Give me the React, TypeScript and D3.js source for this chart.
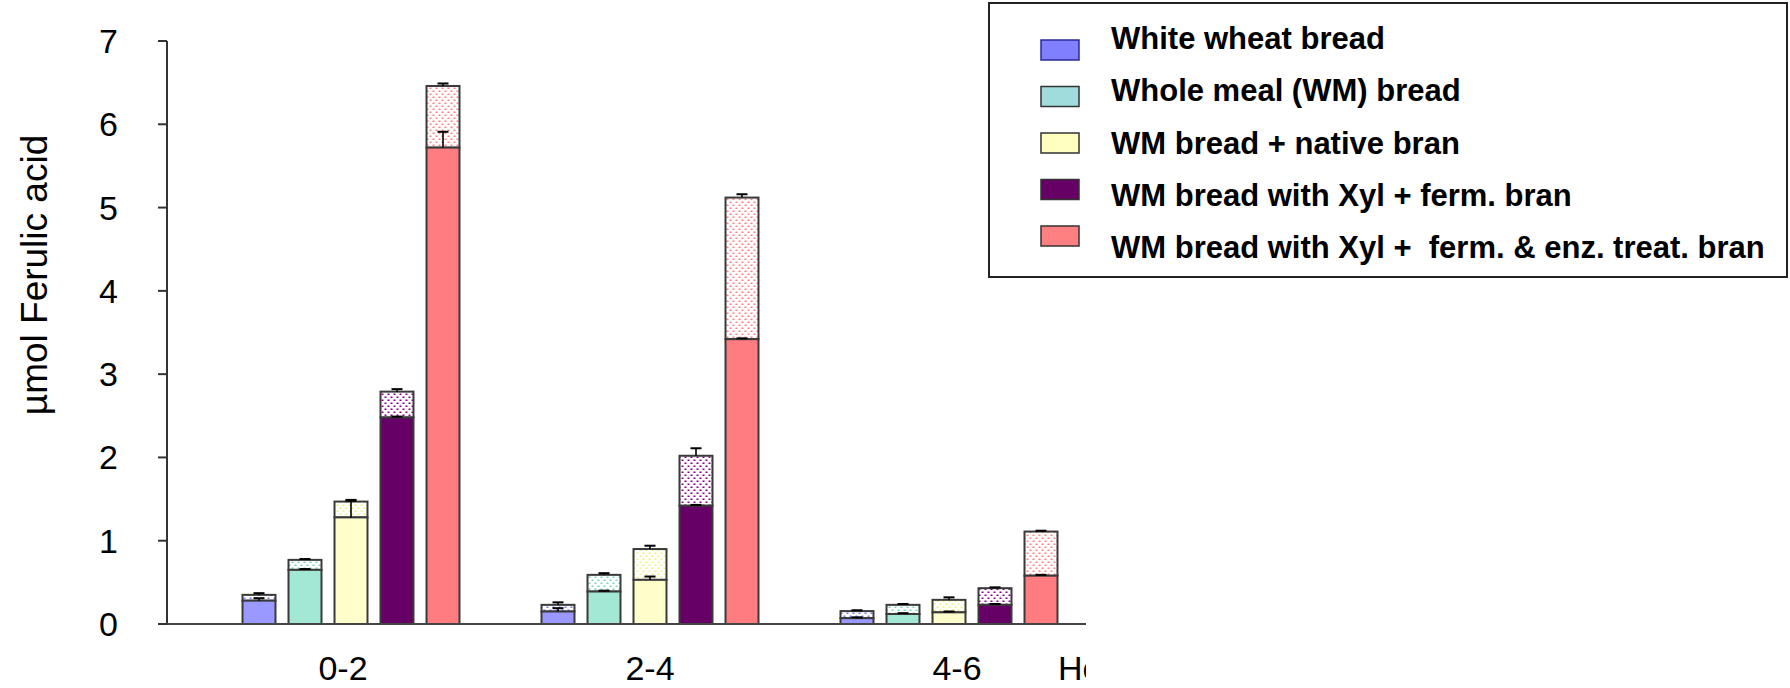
import React from "react";
import * as d3 from "d3";

// hours after ingestion
const categories = ["0-2", "2-4", "4-6"];

const seriesNames = [
    "White wheat bread",
    "Whole meal (WM) bread",
    "WM bread + native bran",
    "WM bread with Xyl + ferm. bran",
    "WM bread with Xyl +  ferm. & enz. treat. bran",
];

// solid (lower) part of each bar
const whiteSolid = [0.28, 0.15, 0.07];
const wholeMealSolid = [0.65, 0.39, 0.12];
const nativeBranSolid = [1.28, 0.53, 0.14];
const fermBranSolid = [2.48, 1.42, 0.23];
const enzBranSolid = [5.72, 3.42, 0.58];

// total height of each bar (dotted part on top)
const whiteTotal = [0.35, 0.23, 0.155];
const wholeMealTotal = [0.77, 0.59, 0.23];
const nativeBranTotal = [1.47, 0.9, 0.29];
const fermBranTotal = [2.79, 2.02, 0.43];
const enzBranTotal = [6.46, 5.12, 1.11];

// error bars
const solidErrors = [
    [0.03, 0.04, 0.01],
    [0.01, 0.01, 0.01],
    [0.2, 0.04, 0.01],
    [0.01, 0.01, 0.01],
    [0.19, 0.01, 0.01],
];
const totalErrors = [
    [0.02, 0.03, 0.01],
    [0.01, 0.02, 0.01],
    [0.02, 0.04, 0.03],
    [0.03, 0.09, 0.01],
    [0.03, 0.04, 0.01],
];

const yTicks = [0, 1, 2, 3, 4, 5, 6, 7];

const barColors = ["#9999ff", "#a3e8d4", "#ffffcc", "#660066", "#ff7c80"];
const dotColors = ["#7777ff", "#77d4c0", "#f2f27a", "#880088", "#ff8080"];
const swatchColors = ["#8080ff", "#a0dcdc", "#ffffc0", "#660066", "#ff8080"];

const solids = [whiteSolid, wholeMealSolid, nativeBranSolid, fermBranSolid, enzBranSolid];
const totals = [whiteTotal, wholeMealTotal, nativeBranTotal, fermBranTotal, enzBranTotal];

const font = "'Liberation Sans', Arial, sans-serif";

export default function App() {
    const width = 1790;
    const height = 688;

    const axisLeft = 167;
    const axisRight = 1086;

    const y = d3.scaleLinear().domain([0, 7]).range([624, 41]);

    // group centres of the bars
    const x = d3.scalePoint<string>().domain(categories).range([351, 949]);
    // category labels sit on their own even spacing
    const xLabel = d3.scalePoint<string>().domain(categories).range([343, 957]);

    const inner = d3
        .scaleBand<string>()
        .domain(seriesNames)
        .range([-115, 115])
        .paddingInner(0.283)
        .paddingOuter(0.1415);

    const bw = inner.bandwidth();
    const capHalf = 5.5;

    const swatchY = d3.scaleLinear().domain([0, 4]).range([40, 226]);
    const textY = d3.scaleLinear().domain([0, 4]).range([49, 258]);

    const errorBar = (cx: number, from: number, len: number, key: string) => (
        <g key={key} stroke="#000" strokeWidth={1.6}>
            <line x1={cx} x2={cx} y1={y(from)} y2={y(from + len)} />
            <line x1={cx - capHalf} x2={cx + capHalf} y1={y(from + len)} y2={y(from + len)} strokeWidth={2} />
        </g>
    );

    return (
        <svg
            width={width}
            height={height}
            style={{ position: "absolute", left: 0, top: 0, background: "#fff" }}
            fontFamily={font}
        >
            <defs>
                {dotColors.map((c, i) => (
                    <pattern key={i} id={`dots-${i}`} width={6} height={6} patternUnits="userSpaceOnUse">
                        <rect width={6} height={6} fill="#fff" />
                        <rect x={0.5} y={0.5} width={2} height={1.5} fill={c} />
                        <rect x={3.5} y={3.5} width={2} height={1.5} fill={c} />
                    </pattern>
                ))}
                <clipPath id="plot-clip">
                    <rect x={0} y={0} width={axisRight} height={height} />
                </clipPath>
            </defs>

            {/* bars */}
            {categories.map((cat, ci) =>
                seriesNames.map((name, si) => {
                    const bx = (x(cat) as number) + (inner(name) as number);
                    const solid = solids[si][ci];
                    const total = totals[si][ci];
                    return (
                        <g key={`${cat}-${si}`}>
                            <rect
                                x={bx}
                                y={y(total)}
                                width={bw}
                                height={y(solid) - y(total)}
                                fill={`url(#dots-${si})`}
                                stroke="#3a3a3a"
                                strokeWidth={2}
                            />
                            <rect
                                x={bx}
                                y={y(solid)}
                                width={bw}
                                height={y(0) - y(solid)}
                                fill={barColors[si]}
                                stroke="#3a3a3a"
                                strokeWidth={2}
                            />
                            {errorBar(bx + bw / 2, solid, solidErrors[si][ci], "es")}
                            {errorBar(bx + bw / 2, total, totalErrors[si][ci], "et")}
                        </g>
                    );
                })
            )}

            {/* y axis */}
            <line x1={axisLeft} x2={axisLeft} y1={y(7)} y2={y(0)} stroke="#333" strokeWidth={2} />
            {yTicks.map((t) => (
                <g key={t}>
                    <line x1={axisLeft - 9} x2={axisLeft} y1={y(t)} y2={y(t)} stroke="#333" strokeWidth={2} />
                    <text x={118} y={y(t) + 12} fontSize={34} textAnchor="end" fill="#000">
                        {t}
                    </text>
                </g>
            ))}
            <text
                transform={`translate(47, 275) rotate(-90)`}
                fontSize={37}
                textAnchor="middle"
                fill="#000"
            >
                µmol Ferulic acid
            </text>

            {/* x axis */}
            <line x1={axisLeft} x2={axisRight} y1={y(0)} y2={y(0)} stroke="#444" strokeWidth={2} />
            {categories.map((cat) => (
                <text key={cat} x={xLabel(cat) as number} y={680} fontSize={34} textAnchor="middle" fill="#000">
                    {cat}
                </text>
            ))}
            <text x={1058} y={680} fontSize={34} fill="#000" clipPath="url(#plot-clip)">
                Hours
            </text>

            {/* legend */}
            <rect x={989} y={3} width={798} height={274} fill="#fff" stroke="#222" strokeWidth={2} />
            {seriesNames.map((name, i) => (
                <g key={name}>
                    <rect
                        x={1041}
                        y={swatchY(i)}
                        width={38}
                        height={20}
                        fill={swatchColors[i]}
                        stroke={i === 0 ? "#2a2a99" : "#333"}
                        strokeWidth={1.5}
                    />
                    <text
                        x={1111}
                        y={textY(i)}
                        fontSize={31}
                        fontWeight="bold"
                        fill="#000"
                        style={{ whiteSpace: "pre" }}
                    >
                        {name}
                    </text>
                </g>
            ))}
        </svg>
    );
}
